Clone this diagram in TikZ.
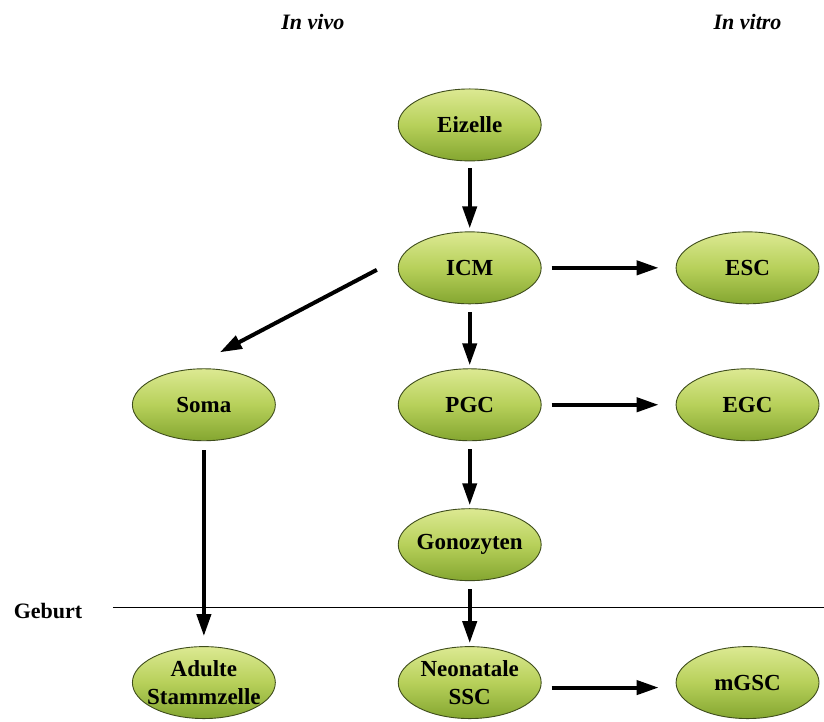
\documentclass[tikz,border=0pt]{standalone}
\usepackage{fontspec}
\setmainfont{Liberation Serif}
\usetikzlibrary{shapes.geometric,arrows.meta}

\definecolor{celltop}{HTML}{DCE992}
\definecolor{cellmid}{HTML}{B7D05A}
\definecolor{cellbot}{HTML}{84A630}
\definecolor{cellrim}{HTML}{3F4D1C}

\tikzset{
  cell/.style={ellipse, draw=cellrim, line width=0.9pt, top color=celltop,
    bottom color=cellbot, middle color=cellmid, minimum width=143pt,
    minimum height=72pt, inner sep=0pt, align=center,
    font=\fontsize{23pt}{28pt}\selectfont\bfseries},
  arr/.style={line width=4pt, -{Triangle[length=22pt,width=14pt]}},
  head/.style={font=\fontsize{22pt}{26pt}\selectfont\bfseries\itshape}
}

\begin{document}
\begin{tikzpicture}[x=1pt, y=-1pt]
\fill [color=white] (0, 0) rectangle (824, 722);

\node (invivo) at (313, 22) [head] {In vivo};
\node (invitro) at (748, 22) [head] {In vitro};

\node (eizelle) at (470, 125) [cell] {Eizelle};
\node (icm) at (470, 268) [cell] {ICM};
\node (esc) at (748, 268) [cell] {ESC};
\node (soma) at (204, 405) [cell] {Soma};
\node (pgc) at (470, 405) [cell] {PGC};
\node (egc) at (748, 405) [cell] {EGC};
\node (gono) at (470, 545) [cell] {\makebox[96pt]{Gonozyten}};
\node (adult) at (204, 683) [cell] {Adulte\\\makebox[96pt]{Stammzelle}};
\node (ssc) at (470, 683) [cell] {Neonatale\\SSC};
\node (mgsc) at (748, 683) [cell] {mGSC};

% birth line
\node (geburt) at (48, 611) [font=\fontsize{22pt}{26pt}\selectfont\bfseries] {Geburt};
\coordinate (lineL) at (113, 608);
\coordinate (lineR) at (824, 608);
\draw [line width=1pt] (lineL) -- (lineR);

% vertical arrows
\draw [arr, shorten <=7pt, shorten >=3pt] (eizelle.south) -- (icm.north);
\draw [arr, shorten <=8pt, shorten >=3pt] (icm.south) -- (pgc.north);
\draw [arr, shorten <=8pt, shorten >=3pt] (pgc.south) -- (gono.north);
\draw [arr, shorten <=8pt, shorten >=3pt] (gono.south) -- (ssc.north);
\draw [arr, shorten <=9pt, shorten >=10pt] (soma.south) -- (adult.north);

% horizontal arrows
\draw [arr, shorten <=10pt, shorten >=17pt] (icm.east) -- (esc.west);
\draw [arr, shorten <=10pt, shorten >=17pt] (pgc.east) -- (egc.west);
\draw [arr, shorten <=10pt, shorten >=17pt] ([yshift=-5pt]ssc.east) -- ([yshift=-5pt]mgsc.west);

% diagonal arrow
\draw [arr] ([xshift=-21pt, yshift=-2pt]icm.west) -- ([xshift=16pt, yshift=16pt]soma.north);
\end{tikzpicture}
\end{document}
